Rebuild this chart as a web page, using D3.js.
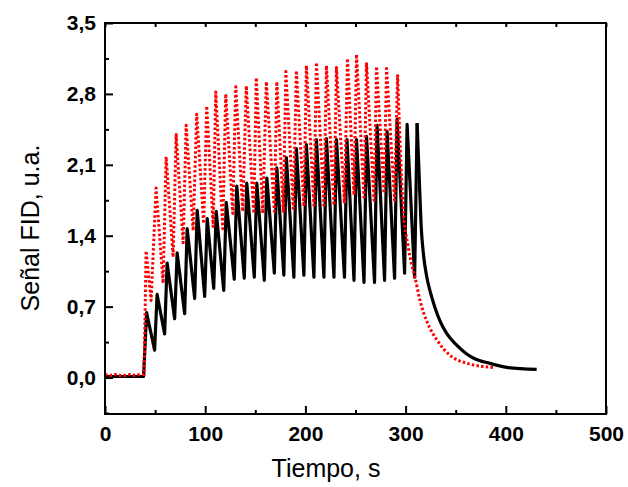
<!DOCTYPE html>
<html>
<head>
<meta charset="utf-8">
<script src="https://cdn.jsdelivr.net/npm/d3@7"></script>
<style>
  body { margin: 0; background: #fff; }
  svg { display: block; }
</style>
</head>
<body>
<div id="chart"></div>
<script>
// Señal negra: línea base, picos, valles y caída final  [tiempo, valor]
const negroBase = [[0, 0.01], [20, 0.01], [38.5, 0.01]];
const negroPicos = [
  [41.5, 0.64], [52, 0.82], [62, 1.13], [72, 1.23], [82, 1.47], [92, 1.65], [102, 1.57],
  [111, 1.64], [121, 1.73], [131.5, 1.89], [141.5, 1.92], [151.5, 1.92], [161.5, 1.97],
  [171.5, 2.07], [181, 2.17], [191, 2.26], [201, 2.30], [211, 2.35], [221, 2.36], [231, 2.35],
  [241.5, 2.35], [251, 2.35], [261, 2.38], [271.5, 2.49], [281.5, 2.43], [291.5, 2.55],
  [301.5, 2.50], [311.5, 2.51]
];
const negroValles = [
  [49.5, 0.27], [59.5, 0.43], [69.5, 0.58], [79.5, 0.63], [89.5, 0.78], [99.5, 0.80],
  [108.5, 0.88], [118.5, 0.86], [129, 0.97], [139, 0.98], [149, 0.99], [159, 0.96],
  [169, 1.03], [178.5, 1.01], [188.5, 0.99], [198.5, 1.01], [208.5, 0.99], [218.5, 0.99],
  [228.5, 0.99], [239, 0.99], [248.5, 0.96], [258.5, 0.94], [269, 0.94], [279, 0.96],
  [289, 0.98], [299, 1.03], [309, 0.99]
];
const negroCola = [
  [313.5, 2.00], [315.5, 1.50], [318, 1.20], [321, 1.00], [324.5, 0.85], [329, 0.70],
  [334.3, 0.56], [341.3, 0.43], [351, 0.32], [360, 0.24], [368, 0.19], [384, 0.14],
  [401, 0.10], [430.8, 0.08]
];

// Señal roja (punteada)
const rojoBase = [[0, 0.03], [5, 0.02], [10, 0.03], [15, 0.02], [20, 0.02], [25, 0.03],
  [30, 0.02], [35, 0.03], [39, 0.03]];
const rojoPicos = [
  [41, 1.25], [51, 1.87], [61, 2.18], [71, 2.40], [81, 2.49], [91.5, 2.60], [101.5, 2.68],
  [110.5, 2.82], [120.5, 2.80], [130.5, 2.87], [141, 2.88], [151, 2.96], [161, 2.92],
  [171.5, 2.92], [180.5, 3.02], [191, 3.03], [201, 3.08], [211, 3.11], [221, 3.08],
  [231, 3.06], [242, 3.15], [251, 3.19], [261, 3.11], [271, 3.07], [281, 3.05], [292, 2.99]
];
const rojoValles = [
  [46, 0.76], [58, 0.93], [68, 1.19], [78, 1.33], [88, 1.45], [98.5, 1.52], [108, 1.49],
  [117.5, 1.47], [127.5, 1.62], [137.5, 1.64], [148.5, 1.62], [157.5, 1.62], [169, 1.64],
  [178, 1.64], [188, 1.67], [198.5, 1.69], [208.5, 1.70], [218.5, 1.70], [228.5, 1.70],
  [239, 1.72], [248.5, 1.80], [258.5, 1.78], [268.5, 1.75], [278.5, 1.82], [289, 1.75]
];
const rojoCola = [
  [297.4, 1.70], [302.4, 1.30], [306, 1.12], [309.4, 0.99], [314.4, 0.76], [321.4, 0.55],
  [331.3, 0.37], [344.3, 0.22], [361.3, 0.14], [387.2, 0.10]
];

// Ejes
const yTicks = [0, 0.7, 1.4, 2.1, 2.8, 3.5];
const yTicksMenores = [-0.35, 0.35, 1.05, 1.75, 2.45, 3.15];
const xTicks = [0, 100, 200, 300, 400, 500];
const xTicksMenores = [50, 150, 250, 350, 450];

const width = 628, height = 487;
const margin = { top: 23, right: 22, bottom: 73, left: 105 };

const svg = d3.select("#chart").append("svg")
  .attr("width", width)
  .attr("height", height);

const x = d3.scaleLinear().domain([0, 500]).range([margin.left, width - margin.right]);
const y = d3.scaleLinear().domain([-0.36, 3.5]).range([height - margin.bottom, margin.top]);

const ordenar = arr => arr.slice().sort((a, b) => a[0] - b[0]);

// tramo oscilante en líneas rectas, la caída final suavizada
const lineaRecta = d3.line().x(d => x(d[0])).y(d => y(d[1]));
const lineaSuave = d3.line().x(d => x(d[0])).y(d => y(d[1])).curve(d3.curveMonotoneX);

function dibujar(base, picos, valles, cola, estilo) {
  const ultimo = picos[picos.length - 1];
  const osc = ordenar([...base, ...picos, ...valles]);
  const caida = [ultimo, ...cola];
  [[osc, lineaRecta], [caida, lineaSuave]].forEach(([datos, gen]) => {
    svg.append("path")
      .datum(datos)
      .attr("fill", "none")
      .attr("stroke-linejoin", "round")
      .call(estilo)
      .attr("d", gen);
  });
}

dibujar(negroBase, negroPicos, negroValles, negroCola, p => p
  .attr("stroke", "#000")
  .attr("stroke-width", 3.2));

dibujar(rojoBase, rojoPicos, rojoValles, rojoCola, p => p
  .attr("stroke", "#ff0000")
  .attr("stroke-width", 3)
  .attr("stroke-dasharray", "2.5,2.2"));

// Marco y ticks hacia adentro
const fmt = d => d3.format(".1f")(d).replace(".", ",");
const estiloEje = g => {
  g.select(".domain").remove();
  g.selectAll("line").attr("stroke", "#000").attr("stroke-width", 2);
  g.selectAll("text")
    .attr("font-family", "Liberation Sans, Arial, sans-serif")
    .attr("font-weight", "bold")
    .attr("font-size", 21)
    .attr("fill", "#000");
};

svg.append("g")
  .attr("transform", `translate(0,${y.range()[0]})`)
  .call(d3.axisBottom(x).tickValues(xTicks).tickSize(-8).tickPadding(12))
  .call(estiloEje);
svg.append("g")
  .attr("transform", `translate(0,${y.range()[0]})`)
  .call(d3.axisBottom(x).tickValues(xTicksMenores).tickSize(-4).tickFormat(""))
  .call(estiloEje);
svg.append("g")
  .attr("transform", `translate(0,${y.range()[1]})`)
  .call(d3.axisTop(x).tickValues(xTicks.concat(xTicksMenores)).tickSize(-4).tickFormat(""))
  .call(estiloEje);

svg.append("g")
  .attr("transform", `translate(${x.range()[0]},0)`)
  .call(d3.axisLeft(y).tickValues(yTicks).tickSize(-8).tickPadding(9).tickFormat(fmt))
  .call(estiloEje);
svg.append("g")
  .attr("transform", `translate(${x.range()[0]},0)`)
  .call(d3.axisLeft(y).tickValues(yTicksMenores).tickSize(-4).tickFormat(""))
  .call(estiloEje);

svg.append("rect")
  .attr("x", x.range()[0])
  .attr("y", y.range()[1])
  .attr("width", x.range()[1] - x.range()[0])
  .attr("height", y.range()[0] - y.range()[1])
  .attr("fill", "none")
  .attr("stroke", "#000")
  .attr("stroke-width", 2);

// Títulos
svg.append("text")
  .attr("x", 326)
  .attr("y", 477)
  .attr("text-anchor", "middle")
  .attr("font-family", "Liberation Sans, Arial, sans-serif")
  .attr("font-size", 25)
  .text("Tiempo, s");

svg.append("text")
  .attr("transform", `translate(39,228) rotate(-90)`)
  .attr("text-anchor", "middle")
  .attr("font-family", "Liberation Sans, Arial, sans-serif")
  .attr("font-size", 25)
  .text("Señal FID, u.a.");
</script>
</body>
</html>
